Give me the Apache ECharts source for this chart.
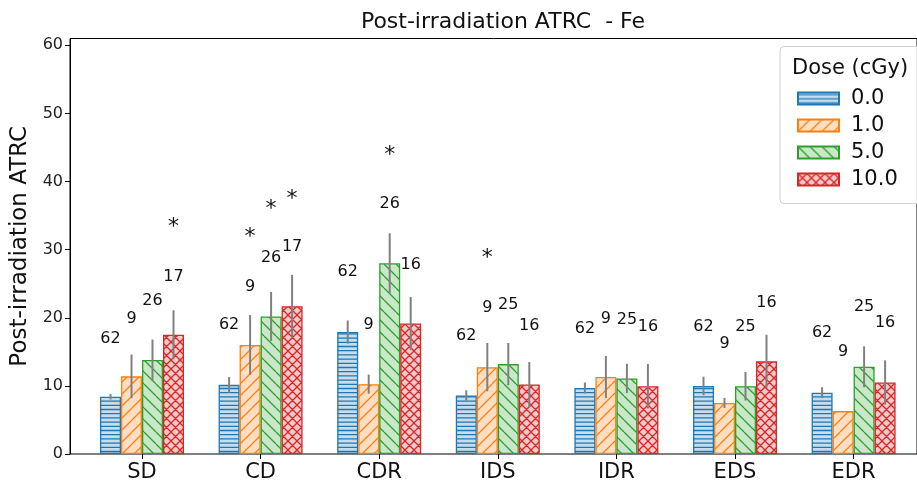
<!DOCTYPE html>
<html><head><meta charset="utf-8">
<script src="https://cdn.jsdelivr.net/npm/echarts@6/dist/echarts.min.js"></script>
<style>html,body{margin:0;padding:0;background:#fff}#c{width:917px;height:486px}</style>
</head><body><div id="c"></div>
<script>
// ---------------- data ----------------
const categories = ['SD', 'CD', 'CDR', 'IDS', 'IDR', 'EDS', 'EDR'];
const doseNames = ['0.0', '1.0', '5.0', '10.0'];
const yTicks = [0, 10, 20, 30, 40, 50, 60];

const mean0  = [8.4, 10.15, 17.9, 8.6, 9.7, 10.0, 9.0];
const mean1  = [11.4, 16.0, 10.25, 12.75, 11.3, 7.5, 6.3];
const mean5  = [13.8, 20.2, 28.0, 13.2, 11.1, 9.95, 12.8];
const mean10 = [17.5, 21.7, 19.15, 10.2, 9.95, 13.6, 10.5];

const err0  = [0.4, 1.15, 1.7, 0.75, 0.8, 1.35, 0.8];
const err1  = [3.2, 4.4, 1.4, 3.55, 3.1, 0.75, 0];
const err5  = [3.0, 3.6, 4.4, 3.1, 2.15, 2.1, 3.0];
const err10 = [3.6, 4.6, 3.9, 3.3, 3.25, 3.9, 3.25];

const n0  = [62, 62, 62, 62, 62, 62, 62];
const n1  = [9, 9, 9, 9, 9, 9, 9];
const n5  = [26, 26, 26, 25, 25, 25, 25];
const n10 = [17, 17, 16, 16, 16, 16, 16];

// y position (data units) of the count labels
const nY0  = [16.9, 18.9, 26.7, 17.3, 18.4, 18.65, 17.8];
const nY1  = [19.9, 24.6, 18.9, 21.4, 19.9, 16.2, 15.0];
const nY5  = [22.5, 28.8, 36.7, 21.9, 19.7, 18.65, 21.6];
const nY10 = [26.0, 30.4, 27.8, 18.75, 18.65, 22.2, 19.2];

// significance asterisks
const starCat  = ['SD', 'CD', 'CD', 'CD', 'CDR', 'IDS'];
const starDose = [3, 1, 2, 3, 2, 1];
const starY    = [34.0, 32.6, 36.7, 38.2, 44.6, 29.4];

// ---------------- styling ----------------
const FONT = '"DejaVu Sans", sans-serif';
const colors = ['#1f77b4', '#ff7f0e', '#2ca02c', '#d62728'];
const fills  = ['#c7ddec', '#ffdfc3', '#cae7ca', '#f5c9c9'];
const BAR_W = 21;
const Y_MAX = 61;

const means = [mean0, mean1, mean5, mean10];
const errs = [err0, err1, err5, err10];
const counts = [n0, n1, n5, n10];
const countY = [nY0, nY1, nY5, nY10];

function makePattern(kind, stroke, fill) {
  const c = document.createElement('canvas');
  let w, h;
  if (kind === 'h') { w = 8; h = 21; }
  else if (kind === 'x') { w = 9; h = 9; }
  else { w = 12; h = 12; }
  c.width = w; c.height = h;
  const g = c.getContext('2d');
  g.fillStyle = fill; g.fillRect(0, 0, w, h);
  g.strokeStyle = stroke; g.lineWidth = 1.3;
  g.beginPath();
  if (kind === 'h') {
    for (let k = 0; k < 5; k++) { const y = k * 4.2 + 2.1; g.moveTo(0, y); g.lineTo(w, y); }
  }
  if (kind === '/' || kind === 'x') {
    for (let k = -1; k <= 1; k++) { g.moveTo(k * w, h); g.lineTo(k * w + w, 0); }
  }
  if (kind === '\\' || kind === 'x') {
    for (let k = -1; k <= 1; k++) { g.moveTo(k * w, 0); g.lineTo(k * w + w, h); }
  }
  g.stroke();
  return { image: c, repeat: 'repeat' };
}
const hatchKinds = ['h', '/', '\\', 'x'];

const barSeries = means.map((m, s) => ({
  name: doseNames[s],
  type: 'bar',
  xAxisIndex: 0, yAxisIndex: 0,
  barWidth: BAR_W,
  barGap: '0%',
  data: m,
  itemStyle: {
    color: makePattern(hatchKinds[s], colors[s], fills[s]),
    borderColor: colors[s],
    borderWidth: 1.3
  },
  emphasis: { disabled: true },
  z: 2
}));

// error bar records
const errData = [];
const errRec = [];
means.forEach((m, s) => m.forEach((v, i) => {
  if (errs[s][i] > 0) {
    errData.push([i, v - errs[s][i], v + errs[s][i]]);
    errRec.push(s);
  }
}));

// text records
const txtData = [];
const txtRec = [];
counts.forEach((arr, s) => arr.forEach((n, i) => {
  txtData.push([i, countY[s][i]]);
  txtRec.push({ s: s, text: String(n), size: 16, dy: 0 });
}));
starCat.forEach((c, k) => {
  txtData.push([categories.indexOf(c), starY[k]]);
  txtRec.push({ s: starDose[k], text: '*', size: 22, dy: 5 });
});

const chart = echarts.init(document.getElementById('c'));
chart.setOption({
  animation: false,
  backgroundColor: '#fff',
  textStyle: { fontFamily: FONT },
  title: [
    { text: 'Post-irradiation ATRC  - Fe', left: 498, top: 6, textAlign: 'center',
      textStyle: { fontSize: 22, fontWeight: 'normal', color: '#111', fontFamily: FONT } },
    { text: 'Dose (cGy)', left: 787, top: 53, z: 10,
      textStyle: { fontSize: 21, fontWeight: 'normal', color: '#111', fontFamily: FONT } }
  ],
  legend: {
    data: doseNames,
    orient: 'vertical',
    left: 780, top: 46.5,
    padding: [41, 60, 13, 17],
    itemWidth: 41, itemHeight: 12,
    itemGap: 5,
    icon: 'rect',
    backgroundColor: 'rgba(255,255,255,0.85)',
    borderColor: '#d0d0d0', borderWidth: 1, borderRadius: 4,
    selectedMode: false,
    textStyle: { fontSize: 21, color: '#111', lineHeight: 22, padding: [0, 0, 0, 7], fontFamily: FONT }
  },
  grid: [
    { left: 82.7, width: 830.2, top: 38.5, bottom: 32, containLabel: false },
    { left: 70, right: -9, top: 38.5, bottom: 32, show: true, borderColor: '#000', borderWidth: 1,
      backgroundColor: 'transparent', containLabel: false }
  ],
  xAxis: [
    { type: 'category', gridIndex: 0, data: categories,
      axisLine: { show: false },
      axisTick: { show: true, alignWithLabel: true, length: 5, lineStyle: { color: '#000' } },
      axisLabel: { fontSize: 21, color: '#111', margin: 8, fontFamily: FONT } },
    { type: 'value', gridIndex: 1, show: false }
  ],
  yAxis: [
    { type: 'value', gridIndex: 0, min: 0, max: Y_MAX, show: false, splitLine: { show: false } },
    { type: 'value', gridIndex: 1, min: yTicks[0], max: Y_MAX, interval: 10,
      name: 'Post-irradiation ATRC', nameLocation: 'middle', nameGap: 36,
      nameTextStyle: { fontSize: 23, color: '#111', fontFamily: FONT },
      axisLine: { show: true, lineStyle: { color: '#000' } },
      axisTick: { show: true, length: 5, lineStyle: { color: '#000' } },
      axisLabel: { fontSize: 16, color: '#222', margin: 7, showMaxLabel: false, fontFamily: FONT },
      splitLine: { show: false } }
  ],
  series: barSeries.concat([
    {
      type: 'custom', name: 'err', xAxisIndex: 0, yAxisIndex: 0, z: 5, clip: false,
      data: errData,
      renderItem: function (params, api) {
        const s = errRec[params.dataIndex];
        const lo = api.coord([api.value(0), api.value(1)]);
        const hi = api.coord([api.value(0), api.value(2)]);
        const x = lo[0] + (s - 1.5) * BAR_W;
        return { type: 'line', shape: { x1: x, y1: lo[1], x2: x, y2: hi[1] },
          style: { stroke: '#808080', lineWidth: 2 } };
      }
    },
    {
      type: 'custom', name: 'labels', xAxisIndex: 0, yAxisIndex: 0, z: 6, clip: false,
      data: txtData,
      renderItem: function (params, api) {
        const r = txtRec[params.dataIndex];
        const p = api.coord([api.value(0), api.value(1)]);
        return { type: 'text', x: p[0] + (r.s - 1.5) * BAR_W, y: p[1] + r.dy,
          style: { text: r.text, fill: '#111', font: r.size + 'px ' + FONT,
            align: 'center', verticalAlign: 'middle', textAlign: 'center', textVerticalAlign: 'middle' } };
      }
    }
  ])
});
</script>
</body></html>
